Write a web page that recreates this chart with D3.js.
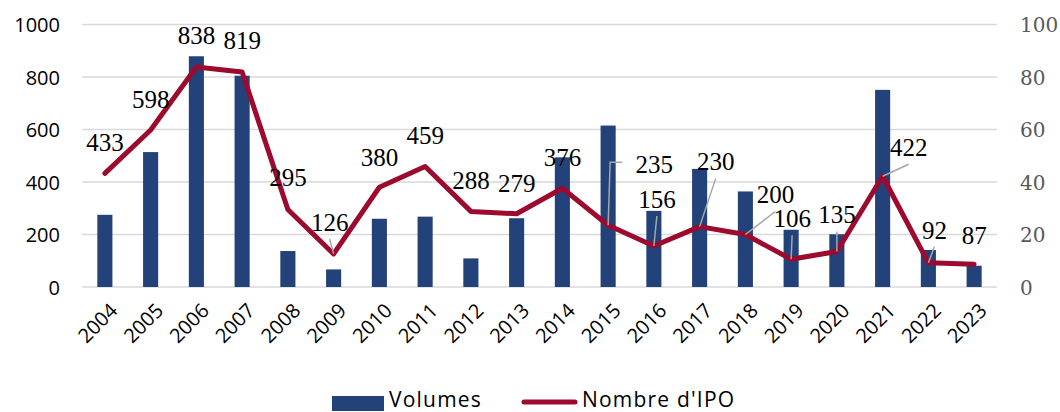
<!DOCTYPE html>
<html>
<head>
<meta charset="utf-8">
<script src="https://cdn.jsdelivr.net/npm/d3@7"></script>
<style>
  body { margin: 0; background: #fff; }
  svg { display: block; }
</style>
</head>
<body>
<svg id="chart" width="1060" height="412"></svg>
<script>
var width = 1060, height = 412

// data
var years = ["2004","2005","2006","2007","2008","2009","2010","2011","2012","2013",
             "2014","2015","2016","2017","2018","2019","2020","2021","2022","2023"];
var volumes = [27.5, 51.4, 87.9, 80.5, 13.7, 6.7, 26.0, 26.8, 10.9, 26.2,
               49.4, 61.5, 29.0, 45.0, 36.4, 21.8, 20.1, 75.1, 14.1, 8.1];
var nbIPO = [433, 598, 838, 819, 295, 126, 380, 459, 288, 279,
             376, 235, 156, 230, 200, 106, 135, 422, 92, 87];
var leftTicks = [0, 200, 400, 600, 800, 1000];
var rightTicks = [0, 20, 40, 60, 80, 100];

// label placement (pixels from the point), and which labels get a leader line
var labelOffsets = [[0,-31],[0,-31],[0,-32],[0,-32],[0,-32],[-4,-32],[0,-30],[0,-31],[0,-31],[0,-31],
                    [0,-31],[46,-61],[3,-47],[16,-65],[30,-40],[1,-41],[0,-37],[26,-29],[6,-33],[0,-29]];
var leaders = [false,false,false,false,false,true,false,false,false,false,
               false,true,true,true,true,true,true,true,true,false];

var plotL = 82, plotR = 997, plotT = 24.5, plotB = 287;

var svg = d3.select("#chart");

var x = d3.scaleBand().domain(years).range([plotL, plotR]).padding(0);
var yL = d3.scaleLinear().domain([0, 1000]).range([plotB, plotT]);
var yR = d3.scaleLinear().domain([0, 100]).range([plotB, plotT]);

// grid
svg.append("g")
  .selectAll("line")
  .data(leftTicks)
  .join("line")
  .attr("x1", plotL).attr("x2", plotR)
  .attr("y1", d => yL(d)).attr("y2", d => yL(d))
  .attr("stroke", "#d9d9d9")
  .attr("stroke-width", 1.5);

// left axis
var axL = svg.append("g")
  .attr("transform", "translate(" + (plotL - 22) + ",0)")
  .call(d3.axisLeft(yL).tickValues(leftTicks).tickFormat(d3.format("d")).tickSize(0).tickPadding(0));
axL.select(".domain").remove();
axL.selectAll("text")
  .attr("font-family", "Open Sans")
  .attr("font-size", 20)
  .attr("fill", "#000")
  .attr("dy", "0.35em");

// right axis
var axR = svg.append("g")
  .attr("transform", "translate(" + (plotR + 23) + ",0)")
  .call(d3.axisRight(yR).tickValues(rightTicks).tickSize(0).tickPadding(0));
axR.select(".domain").remove();
axR.selectAll("text")
  .attr("font-family", "DejaVu Serif")
  .attr("font-size", 20)
  .attr("fill", "#595959")
  .attr("dy", "0.35em");

// x axis labels
svg.append("g")
  .selectAll("text")
  .data(years)
  .join("text")
  .attr("transform", d => "translate(" + (x(d) + x.bandwidth() / 2 + 4) + ",302) rotate(-45)")
  .attr("text-anchor", "end")
  .attr("dy", "0.7em")
  .attr("font-family", "Open Sans")
  .attr("font-size", 20)
  .attr("fill", "#000")
  .text(d => d);

// bars
var bw = x.bandwidth() * 0.33;
svg.append("g")
  .selectAll("rect")
  .data(volumes)
  .join("rect")
  .attr("x", (d, i) => x(years[i]) + x.bandwidth() / 2 - bw / 2)
  .attr("y", d => yR(d))
  .attr("width", bw)
  .attr("height", d => yR(0) - yR(d))
  .attr("fill", "#24427a");

// line
var line = d3.line()
  .x((d, i) => x(years[i]) + x.bandwidth() / 2)
  .y(d => yL(d));

svg.append("path")
  .datum(nbIPO)
  .attr("d", line)
  .attr("fill", "none")
  .attr("stroke", "#9c0a2e")
  .attr("stroke-width", 5)
  .attr("stroke-linejoin", "round")
  .attr("stroke-linecap", "round");

// leader lines
var lead = svg.append("g");
nbIPO.forEach(function(v, i) {
  if (!leaders[i]) return;
  var px = x(years[i]) + x.bandwidth() / 2, py = yL(v);
  var lx = px + labelOffsets[i][0], ly = py + labelOffsets[i][1];
  var pts;
  if (labelOffsets[i][0] > 40) {
    pts = [[lx - 32, ly - 2], [px + 2, ly - 2], [px, py]];
  } else {
    pts = [[lx, ly + 17], [px, py]];
  }
  lead.append("path")
    .attr("d", d3.line()(pts))
    .attr("fill", "none")
    .attr("stroke", "#a6a6a6")
    .attr("stroke-width", 1.5);
});

// data labels
svg.append("g")
  .selectAll("text")
  .data(nbIPO)
  .join("text")
  .attr("x", (d, i) => x(years[i]) + x.bandwidth() / 2 + labelOffsets[i][0])
  .attr("y", (d, i) => yL(d) + labelOffsets[i][1])
  .attr("dy", "0.35em")
  .attr("text-anchor", "middle")
  .attr("font-family", "Liberation Serif")
  .attr("font-size", 25)
  .attr("fill", "#000")
  .text(d => d);

// legend
var leg = svg.append("g");
leg.append("rect")
  .attr("x", 332).attr("y", 396)
  .attr("width", 52).attr("height", 15)
  .attr("fill", "#24427a");
leg.append("text")
  .attr("x", 389).attr("y", 400)
  .attr("dy", "0.35em")
  .attr("font-family", "Open Sans")
  .attr("font-size", 21)
  .attr("letter-spacing", 1.2)
  .text("Volumes");
leg.append("line")
  .attr("x1", 524).attr("x2", 575)
  .attr("y1", 402).attr("y2", 402)
  .attr("stroke", "#9c0a2e")
  .attr("stroke-width", 5)
  .attr("stroke-linecap", "round");
leg.append("text")
  .attr("x", 582).attr("y", 400)
  .attr("dy", "0.35em")
  .attr("font-family", "Open Sans")
  .attr("font-size", 21)
  .attr("letter-spacing", 1.2)
  .text("Nombre d'IPO");
</script>
</body>
</html>
